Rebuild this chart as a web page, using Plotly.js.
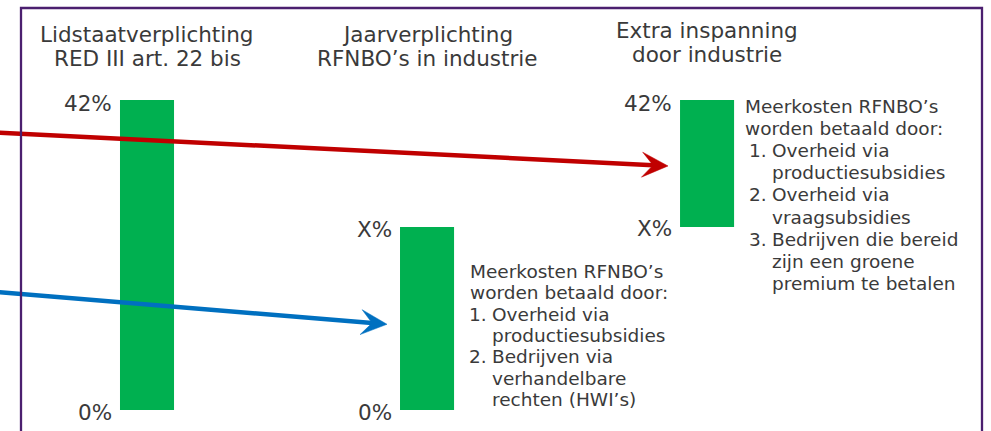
<!DOCTYPE html>
<html>
<head>
<meta charset="utf-8">
<script src="https://cdn.plot.ly/plotly-3.0.1.min.js"></script>
<style>
html,body{margin:0;padding:0;background:#ffffff;}
#chart{width:991px;height:431px;}
</style>
</head>
<body>
<div id="chart"></div>
<script>
// ---- data ----
const categories = [0, 1, 2];
const titleLines = [
  ["Lidstaatverplichting", "RED III art. 22 bis"],
  ["Jaarverplichting", "RFNBO’s in industrie"],
  ["Extra inspanning", "door industrie"]
];
const xValue = 24.8;                 // "X%" level
const barBase = [0, 0, xValue];
const barTop = [42, xValue, 42];
const topLabels = ["42%", "X%", "42%"];
const bottomLabels = ["0%", "0%", "X%"];
const notes2Header = ["Meerkosten RFNBO’s", "worden betaald door:"];
const notes2Items = [["Overheid via", "productiesubsidies"], ["Bedrijven via", "verhandelbare", "rechten (HWI’s)"]];
const notes3Header = ["Meerkosten RFNBO’s", "worden betaald door:"];
const notes3Items = [["Overheid via", "productiesubsidies"], ["Overheid via", "vraagsubsidies"], ["Bedrijven die bereid", "zijn een groene", "premium te betalen"]];

// ---- styles ----
const FONT = "DejaVu Sans";
const TXT = "#3a3a3a";
const GREEN = "#00B050";
const BAR_W = 0.193;

const annotations = [];
const shapes = [];

function txt(text, x, yPix, opts) {
  annotations.push(Object.assign({
    text: text, x: x, xref: "x", y: 1, yref: "paper", yanchor: "middle",
    yshift: -yPix, showarrow: false, font: {family: FONT, size: 18.5, color: TXT}
  }, opts || {}));
}

// titles
titleLines.forEach((lines, i) => {
  const starts = [34.5, 34.5, 30.5];
  lines.forEach((l, k) => txt(l, categories[i], starts[i] + k * 24, {xanchor: "center", font: {family: FONT, size: 21.5, color: TXT}}));
});

// value labels
categories.forEach((c, i) => {
  annotations.push({text: topLabels[i], x: c, y: barTop[i], xref: "x", yref: "y", xanchor: "right", yanchor: "middle",
    xshift: -33, yshift: -3, showarrow: false, font: {family: FONT, size: 21.5, color: TXT}});
  annotations.push({text: bottomLabels[i], x: c, y: barBase[i], xref: "x", yref: "y", xanchor: "right", yanchor: "middle",
    xshift: -33, yshift: -2, showarrow: false, font: {family: FONT, size: 21.5, color: TXT}});
});

// note blocks
function noteBlock(cat, header, items, hx, nx, tx, y0, step) {
  let k = 0;
  header.forEach(h => { txt(h, cat, y0 + k * step, {xanchor: "left", xshift: hx}); k++; });
  items.forEach((item, n) => {
    txt((n + 1) + ".", cat, y0 + k * step, {xanchor: "left", xshift: nx});
    item.forEach(line => { txt(line, cat, y0 + k * step, {xanchor: "left", xshift: tx}); k++; });
  });
}
noteBlock(categories[1], notes2Header, notes2Items, 41, 40, 63, 271.5, 21.3);
noteBlock(categories[2], notes3Header, notes3Items, 36, 40, 63, 106.5, 22.1);

// arrows (drawn as shapes so the frame lies over them)
function arrow(cat, yData, tail, tip, color) {
  const dx = tip[0] - tail[0], dy = tip[1] - tail[1];
  const len = Math.hypot(dx, dy);
  const d = [dx / len, dy / len], n = [-d[1], d[0]];
  const L = 26, W = 12.5, N = 15;
  const c1 = [tip[0] - L * d[0] + W * n[0], tip[1] - L * d[1] + W * n[1]];
  const c2 = [tip[0] - L * d[0] - W * n[0], tip[1] - L * d[1] - W * n[1]];
  const nt = [tip[0] - N * d[0], tip[1] - N * d[1]];
  const base = {xref: "x", yref: "y", xsizemode: "pixel", ysizemode: "pixel",
    xanchor: cat - BAR_W / 2, yanchor: yData, layer: "above"};
  shapes.push(Object.assign({type: "line", x0: tail[0], y0: tail[1], x1: nt[0], y1: nt[1],
    line: {color: color, width: 4.5}}, base));
  shapes.push(Object.assign({type: "path",
    path: `M${tip[0]},${tip[1]} L${c1[0]},${c1[1]} L${nt[0]},${nt[1]} L${c2[0]},${c2[1]} Z`,
    fillcolor: color, line: {color: color, width: 0.5}}, base));
}
arrow(categories[2], (barBase[2] + barTop[2]) / 2, [-683, 31], [-12, -2.5], "#C00000");
arrow(categories[1], (barBase[1] + barTop[1]) / 2, [-403, 26.5], [-13, -5.8], "#0070C0");

// frame
shapes.push({type: "rect", xref: "paper", yref: "paper", x0: 21 / 991, x1: 982 / 991, y0: -0.1, y1: 1 - 8 / 431,
  line: {color: "#4B1F6F", width: 2.3}, fillcolor: "rgba(0,0,0,0)", layer: "above"});

const trace = {
  type: "bar", x: categories, y: barTop.map((t, i) => t - barBase[i]), base: barBase,
  width: BAR_W, marker: {color: GREEN, line: {width: 0}}, hoverinfo: "skip"
};

const layout = {
  width: 991, height: 431,
  margin: {l: 0, r: 0, t: 0, b: 0},
  paper_bgcolor: "#ffffff", plot_bgcolor: "#ffffff",
  showlegend: false,
  xaxis: {range: [-0.525, 3.014], visible: false, fixedrange: true},
  yaxis: {range: [-2.845, 55.55], visible: false, fixedrange: true},
  annotations: annotations,
  shapes: shapes
};

Plotly.newPlot("chart", [trace], layout, {displayModeBar: false, staticPlot: true});
</script>
</body>
</html>
